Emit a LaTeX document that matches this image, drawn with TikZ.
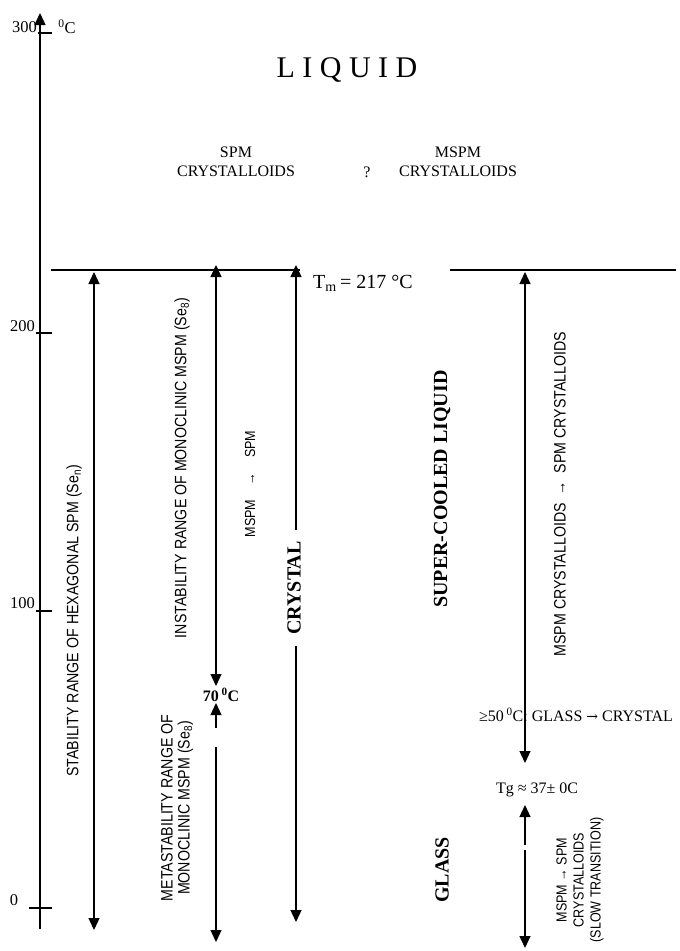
\documentclass[tikz,border=0pt]{standalone}
\usepackage{fontspec}
\setmainfont{Liberation Serif}
\newfontfamily\nsans[FakeStretch=0.86]{Liberation Sans}
\newfontfamily\arrfont{DejaVu Serif}
\usetikzlibrary{arrows.meta}
\begin{document}
\begin{tikzpicture}[x=1pt,y=-1pt,
  ln/.style={line width=1.3pt},
  tipend/.style={-{Triangle[width=11pt,length=12pt]}},
  bothend/.style={{Triangle[width=11pt,length=12pt]}-{Triangle[width=11pt,length=12pt]}},
  vlab/.style={rotate=90,font=\nsans\fontsize{16.5}{17}\selectfont,inner sep=0pt,align=center},
  vsmall/.style={rotate=90,font=\nsans\fontsize{14.6}{17}\selectfont,inner sep=0pt,align=center},
  vbold/.style={rotate=90,font=\bfseries\fontsize{20}{22}\selectfont,inner sep=0pt},
  txt/.style={font=\fontsize{16}{19}\selectfont,inner sep=0pt,align=center},
  num/.style={font=\fontsize{16.5}{18}\selectfont,inner sep=0pt}
]
\useasboundingbox (0,0) rectangle (680,951);
\fill[white] (0,0) rectangle (680,951);

% axis
\coordinate (ax0) at (40,929);
\coordinate (ax1) at (40,13);
\draw[ln,tipend] (ax0) -- (ax1);
\foreach \yy/\xa in {33/38,333/36,611/36,908/29}{
  \draw[ln] (\xa,\yy) -- (52,\yy);
}
\node[num,anchor=east] (l300) at (37,27) {300};
\node[num] (lunit) at (67,27) {\textsuperscript{0}C};
\node[num,anchor=east] (l200) at (35,326) {200};
\node[num,anchor=east] (l100) at (35,603) {100};
\node[num] (l0) at (14,900) {0};

% Tm lines
\coordinate (tmL0) at (51,270);
\coordinate (tmL1) at (300,270);
\coordinate (tmR0) at (450,270);
\coordinate (tmR1) at (676,270);
\draw[ln] (tmL0) -- (tmL1);
\draw[ln] (tmR0) -- (tmR1);

% texts top
\node[font=\fontsize{30}{34}\selectfont,inner sep=0pt] (liquid) at (347,70) {L I Q U I D};
\node[txt] (spm) at (236,162) {SPM\\CRYSTALLOIDS};
\node[txt] (q) at (367,172) {?};
\node[txt] (mspm) at (458,162) {MSPM\\CRYSTALLOIDS};
\node[font=\fontsize{20}{22}\selectfont,inner sep=0pt,anchor=west] (tm) at (313,283) {T\textsubscript{m}\,= 217 °C};

% arrow 1
\coordinate (a1t) at (94,272);
\coordinate (a1b) at (94,930);
\draw[ln,bothend] (a1t) -- (a1b);

% arrow 2
\coordinate (a2t) at (216,265);
\coordinate (a2m) at (216,686);
\coordinate (a2u) at (216,703);
\coordinate (a2d) at (216,728);
\coordinate (a2e) at (216,747);
\coordinate (a2b) at (216,942);
\draw[ln,bothend] (a2t) -- (a2m);
\draw[ln,tipend] (a2d) -- (a2u);
\draw[ln,tipend] (a2e) -- (a2b);
\node[font=\bfseries\fontsize{16}{18}\selectfont,inner sep=0pt] (c70) at (221,695) {70\,\textsuperscript{0}C};

% arrow 3
\coordinate (a3t) at (296,265);
\coordinate (a3b) at (296,922);
\draw[ln,bothend] (a3t) -- (a3b);
\node[vbold,fill=white,inner xsep=11pt,inner ysep=3pt] (crystal) at (294,588) {CRYSTAL};

% right arrow
\coordinate (rt) at (525,272);
\coordinate (rm) at (525,763);
\coordinate (ru) at (525,805);
\coordinate (rd) at (525,845);
\coordinate (re) at (525,850);
\coordinate (rb) at (525,948);
\draw[ln,bothend] (rt) -- (rm);
\draw[ln,tipend] (rd) -- (ru);
\draw[ln,tipend] (re) -- (rb);

% vertical labels
\node[vlab] (stab) at (74,621) {STABILITY RANGE OF HEXAGONAL SPM (Se\textsubscript{n})};
\node[vlab] (instab) at (182,468) {INSTABILITY RANGE OF MONOCLINIC MSPM (Se\textsubscript{8})};
\node[vsmall] (ms) at (250,484) {MSPM\quad→\quad SPM};
\node[vlab] (meta) at (177,808) {METASTABILITY RANGE OF\\MONOCLINIC MSPM (Se\textsubscript{8})};
\node[vbold] (scl) at (442,489) {SUPER-COOLED LIQUID};
\node[vlab] (mcr) at (560,494) {MSPM CRYSTALLOIDS \ → \ SPM CRYSTALLOIDS};
\node[vbold] (glass) at (442,870) {GLASS};
\node[vsmall] (slow) at (580,880) {MSPM → SPM\\CRYSTALLOIDS\\(SLOW TRANSITION)};

% horizontal right labels
\node[txt] (g50) at (576,715) {≥50\,\textsuperscript{0}C: GLASS {\arrfont\fontsize{14}{16}\selectfont →} CRYSTAL};
\node[txt] (tg) at (537,790) {Tg ≈ 37± 0C};
\end{tikzpicture}
\end{document}
